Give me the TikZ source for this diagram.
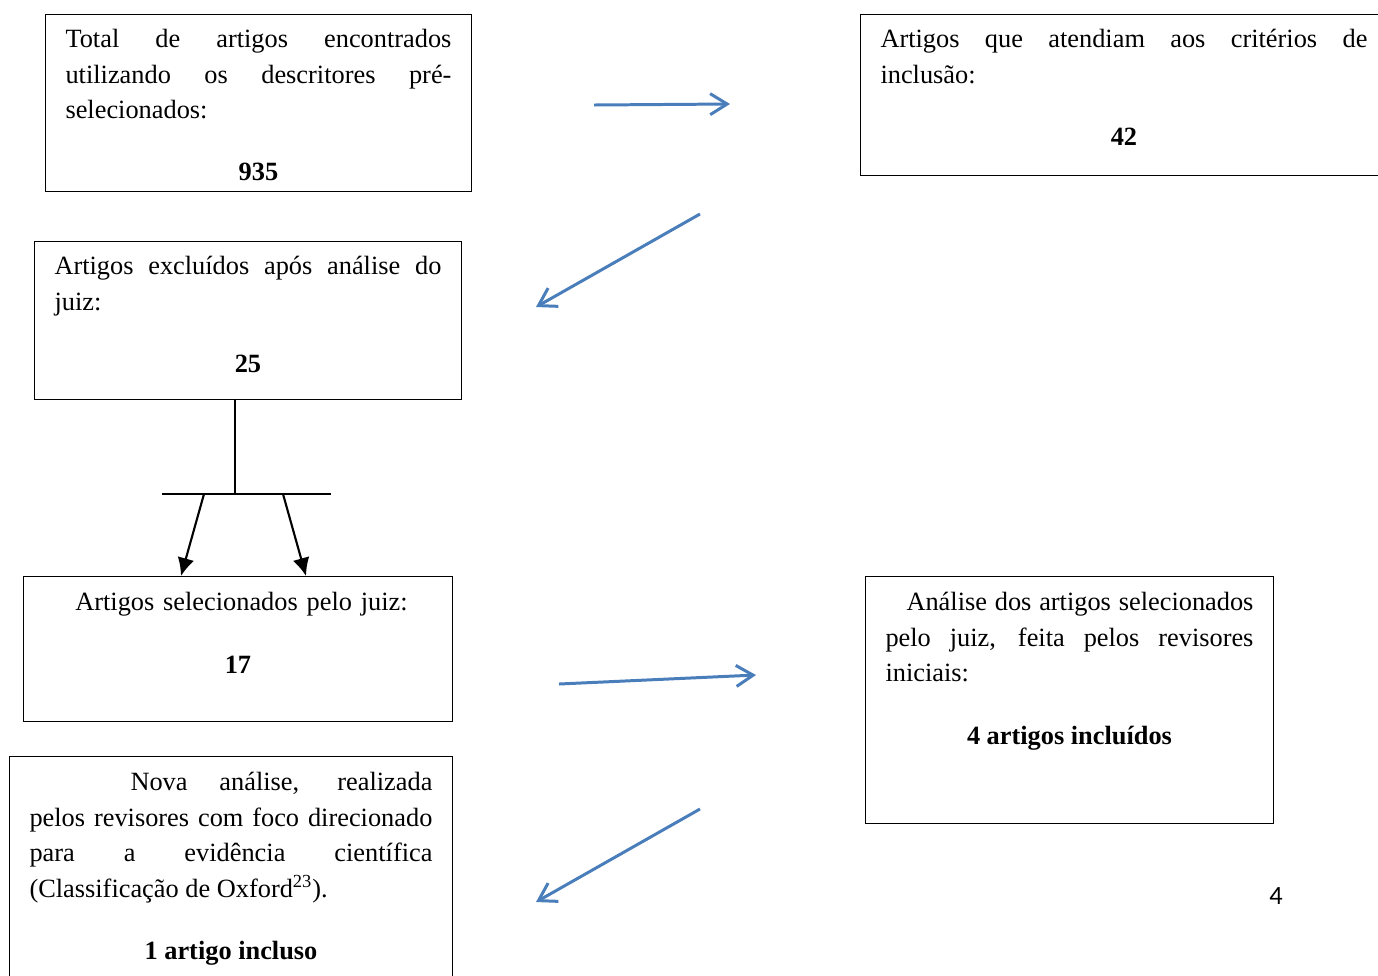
\documentclass[tikz,border=0pt]{standalone}
\usepackage{fontspec}
\setmainfont{Liberation Serif}
\newfontfamily\pagefont{Carlito}
\usepackage{xcolor}
\usetikzlibrary{arrows.meta}
\definecolor{arrowblue}{RGB}{74,126,187}

\begin{document}
\begin{tikzpicture}[x=0.02cm, y=-0.02cm,
    box/.style={rectangle, draw, line width=0.6pt, anchor=north west, inner xsep=0.4cm, inner ysep=0pt, align=justify, font=\fontsize{15}{20.2}\selectfont},
    flow/.style={draw=arrowblue, line width=1.7pt, -{Straight Barb[length=0.34cm,width=0.42cm]}},
    fork/.style={draw, line width=1.2pt},
    forkarrow/.style={fork, -{Latex[length=0.36cm,width=0.34cm]}}]
    \useasboundingbox (0,0) rectangle (1378,975);
    \clip (0,0) rectangle (1378,975);

    % Define nodes
    \node [box, text width=7.72cm, text height=0.66cm, text depth=2.88cm] (total) at (45,14)
      {Total de artigos encontrados\linebreak utilizando os descritores pré-\linebreak selecionados:\par\vspace{0.54cm}{\centering\textbf{935}\par}};
    \node [box, text width=9.74cm, text height=0.66cm, text depth=2.56cm] (incl) at (860,14)
      {Artigos que atendiam aos critérios de\linebreak inclusão:\par\vspace{0.54cm}{\centering\textbf{42}\par}};
    \node [box, text width=7.74cm, text height=0.66cm, text depth=2.5cm] (excl) at (34,241)
      {Artigos excluídos após análise do\linebreak juiz:\par\vspace{0.54cm}{\centering\textbf{25}\par}};
    \node [box, align=center, text width=7.78cm, text height=0.68cm, text depth=2.22cm] (sel) at (23,576)
      {\hspace*{0.14cm}Artigos selecionados pelo juiz:\par\vspace{0.54cm}\textbf{17}};
    \node [box, text width=7.36cm, text height=0.68cm, text depth=4.26cm] (anal) at (865,576)
      {\hspace*{0.42cm}Análise dos artigos selecionados\linebreak pelo juiz, feita pelos revisores\linebreak iniciais:\par\vspace{0.54cm}{\centering\textbf{4 artigos incluídos}\par}};
    \node [box, text width=8.06cm, text height=0.68cm, text depth=4.2cm] (nova) at (9,756)
      {\hspace*{2.02cm}Nova análise, realizada\linebreak pelos revisores com foco direcionado\linebreak para a evidência científica\linebreak (Classificação de Oxford\textsuperscript{23}).\par\vspace{0.54cm}{\centering\textbf{1 artigo incluso}\par}};
    \node [font=\pagefont\fontsize{15}{18}\selectfont] (pagenum) at (1276,896) {4};

    % Free ends of the arrows
    \coordinate (a1s) at (594,105);
    \coordinate (a1e) at (730,104);
    \coordinate (a2s) at (700,214);
    \coordinate (a2e) at (536,307);
    \coordinate (a3s) at (559,684);
    \coordinate (a3e) at (756,675);
    \coordinate (a4s) at (700,809);
    \coordinate (a4e) at (536,902);
    \coordinate (hub) at (235,494);
    \coordinate (barL) at (162,494);
    \coordinate (barR) at (331,494);
    \coordinate (legL) at (204,494);
    \coordinate (legR) at (283,494);
    \coordinate (footL) at (181,576);
    \coordinate (footR) at (306,576);

    % Draw edges
    \draw [flow] (a1s) -- (a1e);
    \draw [flow] (a2s) -- (a2e);
    \draw [flow] (a3s) -- (a3e);
    \draw [flow] (a4s) -- (a4e);
    \draw [fork] (hub |- excl.south) -- (hub);
    \draw [fork] (barL) -- (barR);
    \draw [forkarrow] (legL) -- (footL);
    \draw [forkarrow] (legR) -- (footR);
\end{tikzpicture}
\end{document}
